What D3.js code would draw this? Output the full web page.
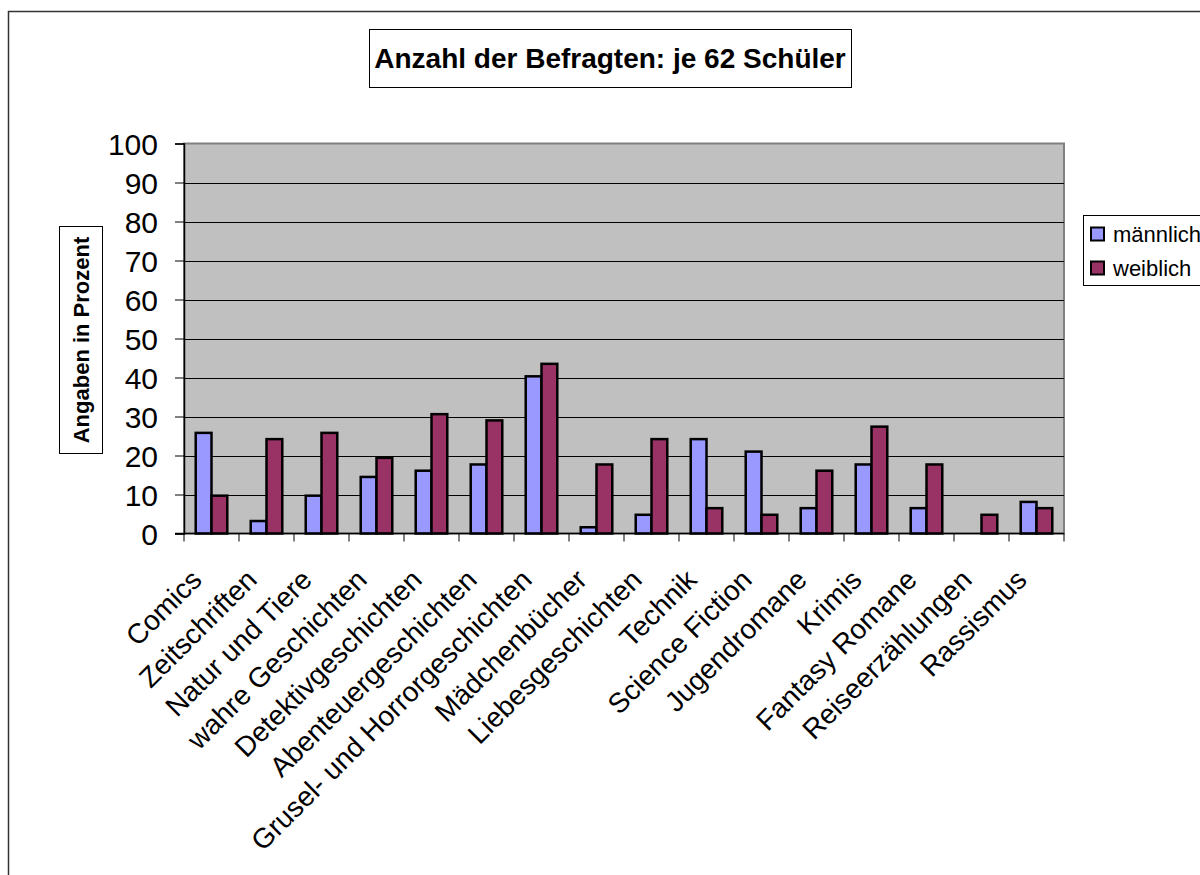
<!DOCTYPE html>
<html>
<head>
<meta charset="utf-8">
<script src="https://cdn.jsdelivr.net/npm/d3@7"></script>
<style>
  body { margin: 0; background: #fff; }
  svg { display: block; font-family: "Liberation Sans", Arial, sans-serif; }
</style>
</head>
<body>
<div id="chart"></div>
<script>
var W = 1200, H = 875;

// data: share of pupils (62 boys, 62 girls) in percent
var categories = ['Comics', 'Zeitschriften', 'Natur und Tiere', 'wahre Geschichten',
  'Detektivgeschichten', 'Abenteuergeschichten', 'Grusel- und Horrorgeschichten',
  'Mädchenbücher', 'Liebesgeschichten', 'Technik', 'Science Fiction', 'Jugendromane',
  'Krimis', 'Fantasy Romane', 'Reiseerzählungen', 'Rassismus']
var series = ['männlich', 'weiblich']
var maleValues = [25.8, 3.2, 9.7, 14.5, 16.1, 17.7, 40.3, 1.6, 4.8, 24.2, 21.0, 6.5, 17.7, 6.5, 0, 8.1]
var femaleValues = [9.7, 24.2, 25.8, 19.4, 30.6, 29.0, 43.5, 17.7, 24.2, 6.5, 4.8, 16.1, 27.4, 17.7, 4.8, 6.5]
var yTicks = [0, 10, 20, 30, 40, 50, 60, 70, 80, 90, 100]
var colors = ['#9999ff', '#993366']

var svg = d3.select('#chart')
  .append('svg')
  .attr('width', W)
  .attr('height', H)

// outer chart border (runs off the page to the right and bottom)
svg.append('rect')
  .attr('x', 8.5).attr('y', 11.5)
  .attr('width', 1300).attr('height', 1000)
  .attr('fill', '#fff')
  .attr('stroke', '#333').attr('stroke-width', 1.5)

// title
svg.append('rect')
  .attr('x', 369.5).attr('y', 29.5)
  .attr('width', 482).attr('height', 58)
  .attr('fill', '#fff').attr('stroke', '#000').attr('stroke-width', 1)
svg.append('text')
  .attr('x', 610).attr('y', 68)
  .attr('text-anchor', 'middle')
  .style('font-size', '28px').style('font-weight', 'bold')
  .text('Anzahl der Befragten: je 62 Schüler')

var plotLeft = 184, plotRight = 1064, plotTop = 143.5, plotBottom = 533.5

var x = d3.scaleBand()
  .domain(categories)
  .range([plotLeft, plotRight])

var bw = x.bandwidth()
var xs = d3.scaleBand()
  .domain(series)
  .range([bw * 0.213, bw * 0.787])

var y = d3.scaleLinear()
  .domain([0, 100])
  .range([plotBottom, plotTop])

// plot area
svg.append('rect')
  .attr('x', plotLeft).attr('y', plotTop)
  .attr('width', plotRight - plotLeft).attr('height', plotBottom - plotTop)
  .attr('fill', '#c0c0c0')
  .attr('stroke', '#808080').attr('stroke-width', 2)

// gridlines
svg.append('g')
  .selectAll('line')
  .data(yTicks.filter(d => d > 0 && d < 100))
  .enter()
  .append('line')
  .attr('x1', plotLeft).attr('x2', plotRight)
  .attr('y1', d => Math.round(y(d)) + 0.5)
  .attr('y2', d => Math.round(y(d)) + 0.5)
  .attr('stroke', '#000').attr('stroke-width', 1)

// bars
var rows = categories.map((c, i) => ({ cat: c, vals: [maleValues[i], femaleValues[i]] }))

var groups = svg.append('g')
  .selectAll('g')
  .data(rows)
  .enter()
  .append('g')
  .attr('transform', d => 'translate(' + x(d.cat) + ',0)')

groups.selectAll('rect')
  .data(d => d.vals.map((v, j) => ({ s: series[j], v: v, j: j })))
  .enter()
  .filter(d => d.v > 0)
  .append('rect')
  .attr('x', d => xs(d.s))
  .attr('width', xs.bandwidth())
  .attr('y', d => y(d.v))
  .attr('height', d => plotBottom - y(d.v))
  .attr('fill', d => colors[d.j])
  .attr('stroke', '#000').attr('stroke-width', 2.5)

// y axis
var yAxis = svg.append('g')
  .attr('transform', 'translate(' + plotLeft + ',0)')
  .call(d3.axisLeft(y).tickValues(yTicks).tickSize(9).tickPadding(17))
yAxis.select('.domain').attr('stroke', '#000').attr('stroke-width', 1.5)
yAxis.selectAll('.tick line').attr('stroke', '#000')
yAxis.selectAll('text')
  .style('font-size', '30px')
  .style('font-family', '"Liberation Sans", Arial, sans-serif')
  .attr('fill', '#000')
  .attr('dy', '0.36em')

// x axis ticks at band boundaries
var bounds = categories.map(c => x(c)).concat([plotRight])
svg.append('g')
  .selectAll('line')
  .data(bounds)
  .enter()
  .append('line')
  .attr('x1', d => d).attr('x2', d => d)
  .attr('y1', plotBottom).attr('y2', plotBottom + 8)
  .attr('stroke', '#000').attr('stroke-width', 1)
svg.append('line')
  .attr('x1', plotLeft - 9).attr('x2', plotRight)
  .attr('y1', plotBottom).attr('y2', plotBottom)
  .attr('stroke', '#000').attr('stroke-width', 1.5)

// category labels
svg.append('g')
  .selectAll('text')
  .data(categories)
  .enter()
  .append('text')
  .attr('transform', d => 'translate(' + (x(d) + bw / 2 - 8) + ',' + (plotBottom + 48) + ') rotate(-45)')
  .attr('text-anchor', 'end')
  .style('font-size', '28px')
  .text(d => d)

// y axis title
svg.append('rect')
  .attr('x', 59.5).attr('y', 226.5)
  .attr('width', 43).attr('height', 227)
  .attr('fill', '#fff').attr('stroke', '#000').attr('stroke-width', 1)
svg.append('text')
  .attr('transform', 'translate(89,340) rotate(-90)')
  .attr('text-anchor', 'middle')
  .style('font-size', '22px').style('font-weight', 'bold')
  .text('Angaben in Prozent')

// legend
var legend = svg.append('g').attr('transform', 'translate(1083,0)')
legend.append('rect')
  .attr('x', 0.5).attr('y', 215.5)
  .attr('width', 140).attr('height', 70)
  .attr('fill', '#fff').attr('stroke', '#000').attr('stroke-width', 1)
var items = legend.selectAll('.item')
  .data(series)
  .enter()
  .append('g')
  .attr('class', 'item')
  .attr('transform', (d, i) => 'translate(8,' + (234 + i * 34) + ')')
items.append('rect')
  .attr('x', 0).attr('y', -6.5)
  .attr('width', 13).attr('height', 13)
  .attr('fill', (d, i) => colors[i])
  .attr('stroke', '#000').attr('stroke-width', 2)
items.append('text')
  .attr('x', 22).attr('y', 0)
  .attr('dy', '0.36em')
  .style('font-size', '22px')
  .text(d => d)
</script>
</body>
</html>
